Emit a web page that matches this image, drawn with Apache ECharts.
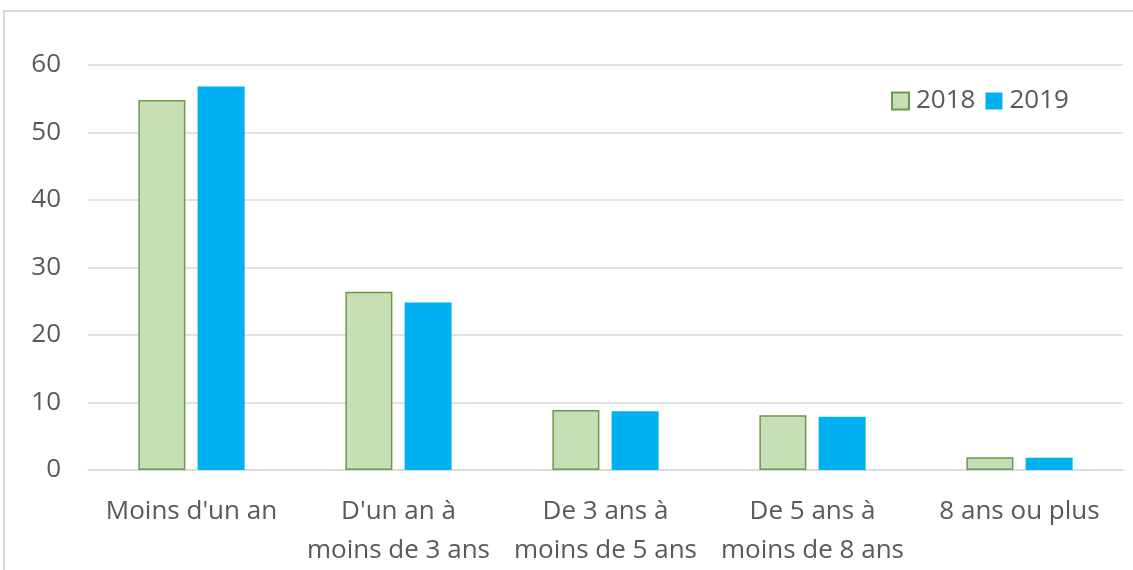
<!DOCTYPE html>
<html lang="fr">
<head>
    <meta charset="UTF-8">
    <title>Ancienneté</title>
    <script src="https://cdn.jsdelivr.net/npm/echarts@6/dist/echarts.min.js"></script>
    <style>
        html, body { margin: 0; padding: 0; background: #fff; }
        #chartmain { width: 1133px; height: 570px; }
    </style>
</head>
<body>
<div id="chartmain"></div>
<script type="text/javascript">
    // données
    var categories = ["Moins d'un an", "D'un an à\nmoins de 3 ans", "De 3 ans à\nmoins de 5 ans", "De 5 ans à\nmoins de 8 ans", "8 ans ou plus"];
    var values2018 = [54.8, 26.4, 8.9, 8.1, 1.9];
    var values2019 = [56.8, 24.8, 8.7, 7.9, 1.8];
    var yTicks = [0, 10, 20, 30, 40, 50, 60];

    var myChart = echarts.init(document.getElementById('chartmain'));
    var font = "'Open Sans', 'Liberation Sans', sans-serif";

    var option = {
        animation: false,
        textStyle: { fontFamily: font },
        graphic: [{
            type: 'rect',
            shape: { x: 4, y: 11, width: 1140, height: 580 },
            style: { fill: 'none', stroke: '#d9d9d9', lineWidth: 2 },
            silent: true
        }],
        legend: {
            data: ['2018', '2019'],
            left: 886,
            top: 83,
            icon: 'rect',
            itemWidth: 17,
            itemHeight: 17,
            itemGap: 10,
            textStyle: { fontSize: 26, color: '#595959', fontFamily: font, padding: [0, 0, 0, 2] }
        },
        grid: { left: 88, right: 10, top: 65, bottom: 97, containLabel: false },
        xAxis: {
            type: 'category',
            data: categories,
            axisTick: { show: false },
            axisLine: { lineStyle: { color: '#d9d9d9', width: 1.5 } },
            axisLabel: {
                fontSize: 26, color: '#595959', lineHeight: 39, margin: 22,
                interval: 0, fontFamily: font
            }
        },
        yAxis: {
            type: 'value',
            min: yTicks[0],
            max: yTicks[yTicks.length - 1],
            interval: 10,
            axisLine: { show: false },
            axisTick: { show: false },
            splitLine: { lineStyle: { color: '#d9d9d9', width: 1.5 } },
            axisLabel: { fontSize: 26, color: '#595959', margin: 27, fontFamily: font }
        },
        series: [{
            name: '2018',
            type: 'bar',
            data: values2018,
            barWidth: 47,
            barGap: '26%',
            itemStyle: { color: '#c5e0b4', borderColor: '#70984a', borderWidth: 1.5 }
        }, {
            name: '2019',
            type: 'bar',
            data: values2019,
            barWidth: 47,
            itemStyle: { color: '#00b0f0' }
        }]
    };
    myChart.setOption(option);
</script>
</body>
</html>
